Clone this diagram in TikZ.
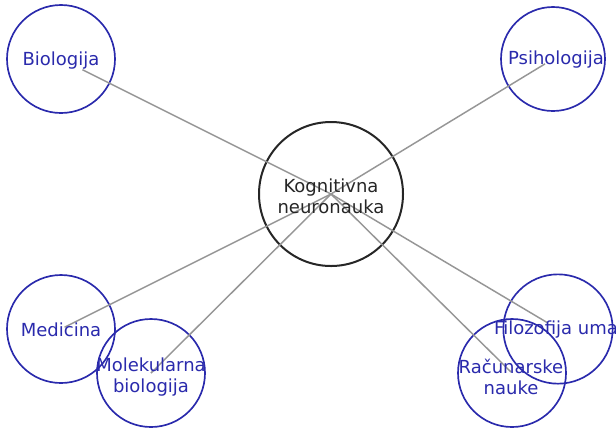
\documentclass[tikz,border=0pt]{standalone}
\usepackage{fontspec}
\setmainfont{DejaVu Sans}
\usepackage{xcolor}
\usepackage{tikz}
\usetikzlibrary{calc}
\usetikzlibrary{positioning}

\definecolor{topicblue}{RGB}{42,42,172}
\definecolor{linkgray}{RGB}{150,150,150}

\begin{document}
\begin{tikzpicture}[x=0.75pt,y=-0.75pt,-,semithick]
	\tikzstyle{topic}=[circle, draw=topicblue, line width=1.25pt, minimum size=81pt, inner sep=0pt]
	\tikzstyle{main}=[circle, draw=black!85, line width=1.5pt, minimum size=108pt, inner sep=0pt]
	\tikzstyle{topictext}=[text=topicblue, align=center, font=\fontsize{13.5}{15.5}\selectfont]
	\tikzstyle{maintext}=[text=black!85, align=center, font=\fontsize{13.5}{15.5}\selectfont]
	\tikzstyle{link}=[draw=linkgray, line width=1.1pt]
	\useasboundingbox (0,0) rectangle (616,430);

			\node[main]  (kn) at (331,194) {};
			\node[topic] (bio) at (61,59) {};
			\node[topic, minimum size=78pt] (psi) at (553,59) {};
			\node[topic] (med) at (61,329) {};
			\node[topic] (mol) at (151,373) {};
			\node[topic, minimum size=82pt] (filo) at (558,329) {};
			\node[topic] (rac) at (512,373) {};

				\foreach \i/\s in {bio/18pt,psi/7pt,med/3pt,mol/0pt,filo/9pt,rac/1pt}{
		 			\draw[link, shorten <=\s]  (\i.center) -- (kn.center);
		 			}

			\node[maintext]  (kn-t) at (331,196) {Kognitivna\\neuronauka};
			\node[topictext] (bio-t) at (61,61) {Biologija};
			\node[topictext] (psi-t) at (556,60) {Psihologija};
			\node[topictext] (med-t) at (61,330) {Medicina};
			\node[topictext] (mol-t) at (151,377) {Molekularna\\biologija};
			\node[topictext] (filo-t) at (556,330) {Filozofija uma};
			\node[topictext] (rac-t) at (511,377) {Računarske\\nauke};
\end{tikzpicture}
\end{document}
